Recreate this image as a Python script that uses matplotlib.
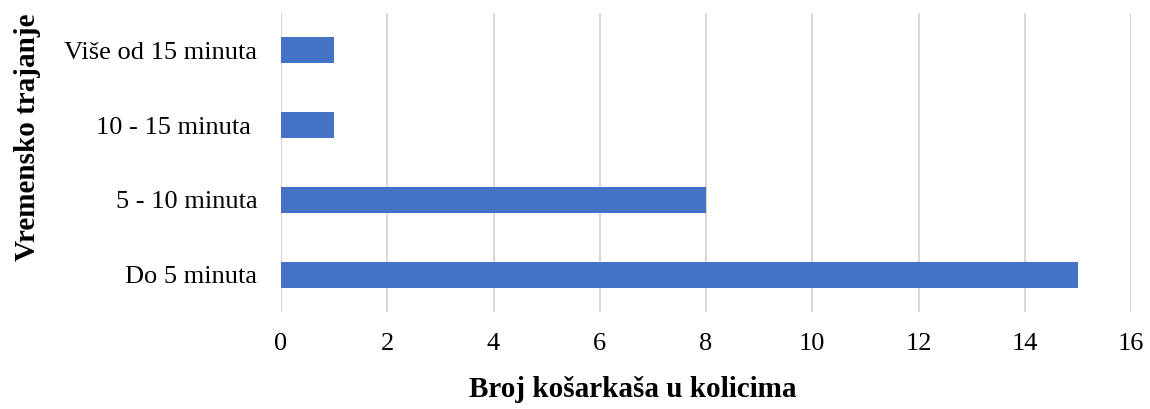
import matplotlib.pyplot as plt

categories = ["Do 5 minuta", "5 - 10 minuta", "10 - 15 minuta ", "Više od 15 minuta"]
counts = [15, 8, 1, 1]
x_ticks = [0, 2, 4, 6, 8, 10, 12, 14, 16]

plt.rcParams['font.family'] = ['Liberation Serif', 'DejaVu Serif']

fig = plt.figure(figsize=(11.5, 4.09), dpi=100)
ax = fig.add_axes([281 / 1150, 1 - 312 / 409, 850 / 1150, 299 / 409])

ypos = list(range(len(categories)))
ax.barh(ypos, counts, height=0.35, color='#4472C4', zorder=3)

ax.set_xlim(0, 16)
ax.set_ylim(-0.5, 3.5)
ax.set_xticks(x_ticks)
ax.set_xticklabels([str(t) for t in x_ticks], fontsize=19)
ax.set_yticks(ypos)
ax.set_yticklabels(categories, fontsize=19)
ax.tick_params(axis='both', length=0)
ax.tick_params(axis='x', pad=15)
ax.tick_params(axis='y', pad=17)

ax.grid(axis='x', color='#d9d9d9', linewidth=1.5, zorder=0)
for s in ax.spines.values():
    s.set_visible(False)

ax.set_xlabel("Broj košarkaša u kolicima", fontsize=21, fontweight='bold')
ax.set_ylabel("Vremensko trajanje", fontsize=21, fontweight='bold')
ax.xaxis.set_label_coords((633 - 281) / 850, -(376 - 312) / 299)
ax.yaxis.set_label_coords(-(281 - 41) / 850, (312 - 137) / 299)

fig.savefig("out.png", dpi=100)
